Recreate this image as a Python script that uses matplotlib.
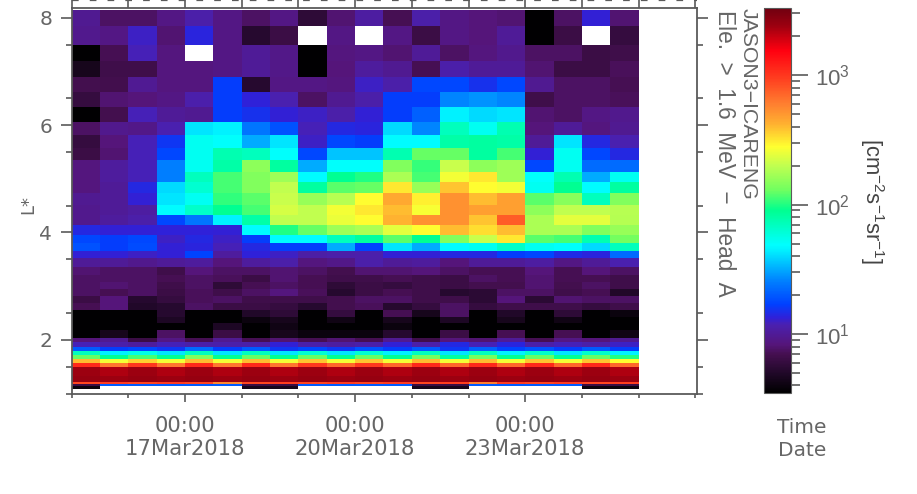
import numpy as np
import matplotlib
matplotlib.use("Agg")
import matplotlib.pyplot as plt
from matplotlib.colors import LinearSegmentedColormap, LogNorm
from matplotlib.ticker import LogLocator, NullFormatter

W, H = 917, 494
N = np.nan

# L* bin edges (top to bottom)
l_edges = [8.155, 7.847, 7.493, 7.194, 6.896, 6.616, 6.336, 6.056, 5.813, 5.571,
           5.347, 5.123, 4.937, 4.731, 4.507, 4.321, 4.134, 3.948, 3.799, 3.649,
           3.519, 3.351, 3.201, 3.071, 2.940, 2.810, 2.679, 2.549, 2.418, 2.306,
           2.175, 2.026, 1.951, 1.858, 1.784, 1.709, 1.634, 1.560, 1.485, 1.317,
           1.215, 1.168, 1.140, 1.093]

# log10 flux per L* bin (rows) and 12 h time bin (columns)
log_flux = [
 [.98,.88,.88,.95,1.05,.95,.88,.95,.75,.9,1.03,.85,1.05,.95,.92,.9,.55,.88,1.12,.9],
 [.97,.95,1.1,.9,1.14,.95,.72,.8,N,.95,N,.95,.8,.95,.92,1.0,.55,.8,N,.78],
 [.55,.85,1.08,.93,N,.95,1.0,.96,.55,.93,.95,.9,1.0,.88,.93,.97,.88,.88,.8,.82],
 [.65,.82,.82,.93,.93,.95,1.0,.96,.55,.92,1.02,.98,.85,1.05,1.0,1.0,.9,.8,.8,.86],
 [.84,.83,.99,.93,.93,1.22,.72,.95,.95,.93,1.1,1.05,1.25,1.25,1.18,1.25,.98,.88,.88,.85],
 [.78,.9,.92,.95,1.06,1.22,1.13,1.07,.88,.98,1.05,1.22,1.22,1.42,1.45,1.42,.82,.88,.88,.86],
 [.55,.84,1.08,1.0,.98,1.22,1.18,1.12,1.1,1.05,1.12,1.22,1.32,1.65,1.6,1.62,.9,.88,.95,.97],
 [.88,.97,.96,1.07,1.62,1.65,1.38,1.28,1.08,1.15,1.14,1.6,1.42,1.85,1.72,1.88,.92,1.0,.93,.98],
 [.78,.92,1.08,1.2,1.72,1.7,1.5,1.62,1.1,1.25,1.22,1.68,1.68,1.9,1.92,1.9,1.0,1.62,1.15,1.07],
 [.8,.9,1.08,1.25,1.72,1.88,1.85,1.7,1.25,1.55,1.55,1.88,2.1,2.1,1.92,2.05,1.12,1.72,1.25,1.15],
 [.93,1.02,1.08,1.4,1.72,1.9,2.18,1.92,1.5,1.7,1.7,2.15,2.03,2.32,2.18,2.22,1.25,1.72,1.35,1.35],
 [.93,1.02,1.08,1.4,1.85,2.05,2.15,2.22,1.68,1.95,2.0,2.25,2.05,2.42,2.5,2.22,1.7,1.88,1.5,1.72],
 [.93,1.0,1.15,1.6,1.8,2.05,2.15,2.3,1.92,2.08,2.1,2.5,2.2,2.58,2.45,2.42,1.72,1.95,1.68,1.92],
 [.98,1.0,1.12,1.62,1.72,2.02,2.08,2.32,2.2,2.28,2.45,2.65,2.48,2.72,2.6,2.68,2.08,2.17,1.85,2.15],
 [.97,1.0,1.03,1.68,1.82,1.95,2.05,2.35,2.3,2.42,2.5,2.6,2.43,2.72,2.68,2.68,2.18,2.3,2.3,2.28],
 [.97,1.02,1.05,1.25,1.38,1.65,1.9,2.3,2.3,2.4,2.45,2.62,2.72,2.72,2.58,2.88,2.25,2.38,2.38,2.27],
 [1.15,1.12,1.12,1.13,1.13,1.12,1.68,2.0,2.1,2.22,2.25,2.38,2.45,2.6,2.52,2.6,2.25,2.25,2.15,2.2],
 [1.25,1.22,1.25,1.1,1.15,1.1,1.22,1.68,1.68,1.85,1.92,2.08,1.95,2.15,2.32,2.5,2.08,2.05,1.88,2.12],
 [1.28,1.22,1.26,1.12,1.14,1.08,1.15,1.22,1.22,1.5,1.24,1.62,1.5,1.68,1.72,1.82,1.72,1.7,1.6,1.85],
 [1.12,1.12,1.1,1.12,1.24,1.02,1.13,1.1,1.04,1.05,1.06,1.12,1.12,1.15,1.15,1.22,1.25,1.16,1.14,1.35],
 [1.0,1.0,.97,1.0,1.02,.92,1.02,1.05,.93,.96,1.05,1.0,1.02,.92,1.0,1.0,1.03,.95,1.0,1.07],
 [.9,.88,.88,.82,.92,.88,.88,.9,.88,.84,.9,.9,.92,.88,.85,.85,.92,.85,.92,.88],
 [.88,.88,.88,.85,.88,.86,.8,.9,.85,.82,.82,.85,.82,.8,.88,.85,.9,.85,.85,.82],
 [.88,.9,.88,.82,.88,.75,.85,.88,.85,.75,.8,.78,.82,.8,.84,.84,.9,.84,.88,.82],
 [.88,.85,.88,.8,.86,.82,.88,.93,.86,.72,.8,.85,.82,.72,.74,.88,.88,.82,.85,.7],
 [.8,.92,.72,.78,.86,.88,.82,.82,.82,.84,.88,.88,.82,.82,.74,.92,.74,.9,.88,.88],
 [.85,.92,.7,.72,.88,.8,.8,.78,.72,.84,.86,.72,.78,.88,.78,.82,.82,.82,.78,.82],
 [.55,.55,.55,.72,.55,.55,.7,.75,.55,.78,.55,.85,.65,.88,.55,.7,.55,.75,.55,.6],
 [.55,.55,.55,.68,.55,.55,.6,.65,.55,.62,.55,.65,.55,.68,.55,.65,.55,.62,.55,.55],
 [.55,.55,.55,.55,.55,.68,.55,.62,.55,.55,.55,.6,.55,.55,.55,.55,.55,.55,.55,.55],
 [.55,.65,.55,.88,.55,.8,.55,.65,.6,.6,.6,.72,.55,.8,.55,.85,.55,.85,.55,.62],
 [.92,.98,.8,.95,.85,.98,.85,.9,.85,.9,.85,.98,.82,.92,.9,1.0,.85,.95,.92,.98],
 [1.08,1.05,1.02,1.08,1.05,1.05,1.05,1.12,1.05,1.03,1.05,1.12,1.05,1.15,1.08,1.14,1.05,1.08,1.05,1.1],
 [1.3,1.22,1.25,1.2,1.35,1.22,1.3,1.2,1.25,1.2,1.28,1.22,1.3,1.2,1.32,1.24,1.28,1.22,1.3,1.22],
 [1.85,1.65,1.75,1.62,1.85,1.62,1.85,1.62,1.8,1.62,1.8,1.65,1.85,1.62,1.85,1.65,1.82,1.62,1.82,1.65],
 [2.1,1.95,2.05,1.95,2.15,1.95,2.1,1.95,2.1,1.95,2.1,1.95,2.12,1.92,2.12,1.95,2.1,1.95,2.1,2.0],
 [2.6,2.42,2.55,2.42,2.6,2.42,2.6,2.42,2.58,2.42,2.58,2.42,2.6,2.42,2.6,2.42,2.58,2.42,2.58,2.45],
 [3.05,2.8,3.0,2.8,3.05,2.8,3.05,2.8,3.0,2.85,3.0,2.85,3.05,2.85,3.05,2.85,3.05,2.85,3.05,2.85],
 [3.38,3.35,3.38,3.35,3.38,3.35,3.38,3.35,3.38,3.35,3.38,3.35,3.38,3.35,3.38,3.35,3.38,3.35,3.38,3.35],
 [3.4,3.38,3.4,3.38,3.4,3.38,3.4,3.38,3.4,3.38,3.4,3.38,3.4,3.38,3.4,3.38,3.4,3.38,3.4,3.38],
 [2.95,2.98,2.95,2.98,2.95,2.75,2.95,2.98,2.95,2.98,2.95,2.98,2.95,2.98,2.78,2.98,2.95,2.98,2.95,2.98],
 [.8,1.3,1.3,1.3,1.3,1.3,.8,.8,1.3,1.3,1.3,1.3,.8,.8,1.3,1.3,1.3,1.3,.8,.8],
 [.6,N,N,N,N,N,.65,.65,N,N,N,N,.65,.65,N,N,N,N,.6,.6],
]

# time bin edges, days after 15 Mar 2018 00:00
n_time_bins = 20
t_edges = np.arange(n_time_bins + 1) * 0.5

major_days = [2, 5, 8]
major_labels = ["00:00\n17Mar2018", "00:00\n20Mar2018", "00:00\n23Mar2018"]
minor_days = [0, 1, 3, 4, 6, 7, 9, 10, 11]
all_days = list(range(12))
l_major = [2, 4, 6, 8]
l_minor = [1.5, 2.5, 3.5, 4.5, 5.5, 6.5, 7.5, 1.0]

vmin, vmax = 3.5, 3300.0

stops = [(0.0, "#000000"), (.05, "#200828"), (.10, "#450f50"), (.125, "#55157a"),
         (.177, "#4a20b0"), (.195, "#3020d8"), (.23, "#0040ff"), (.29, "#0080ff"),
         (.37, "#00f0ff"), (.385, "#00ffff"), (.475, "#00ff90"), (.527, "#70ff60"),
         (.59, "#c0ff50"), (.64, "#ffff30"), (.70, "#ffb030"), (.75, "#ff8030"),
         (.815, "#ff4020"), (.89, "#ff0010"), (.955, "#9c0010"), (1.0, "#700010")]
cmap = LinearSegmentedColormap.from_list("flux", stops, N=512)
cmap.set_bad("white")

GREY = "#5a5a5a"
TXT = "#666666"
plt.rcParams["mathtext.default"] = "regular"
plt.rcParams["mathtext.fontset"] = "custom"
plt.rcParams["mathtext.rm"] = "Liberation Sans"

fig = plt.figure(figsize=(W / 100, H / 100), dpi=100, facecolor="white")

def rect(x0, y0, x1, y1):
    return [x0 / W, (H - y1) / H, (x1 - x0) / W, (y1 - y0) / H]

ax = fig.add_axes(rect(71.7, 8, 697, 393.5))
values = np.ma.masked_invalid(10.0 ** np.array(log_flux))
mesh = ax.pcolormesh(t_edges, l_edges, values, cmap=cmap,
                     norm=LogNorm(vmin=vmin, vmax=vmax), shading="flat", rasterized=True)
ax.set_xlim(0, 11.03)
ax.set_ylim(1.0, 8.183)
for s in ax.spines.values():
    s.set_color(GREY)
    s.set_linewidth(1.3)

ax.set_xticks(major_days)
ax.set_xticklabels(major_labels, fontsize=15.2, color=TXT, family="DejaVu Sans", linespacing=1.15)
ax.set_xticks(minor_days, minor=True)
ax.set_yticks(l_major)
ax.set_yticklabels([str(v) for v in l_major], fontsize=14.5, color=TXT, family="DejaVu Sans")
ax.set_yticks(l_minor, minor=True)
ax.tick_params(axis="x", which="major", direction="out", length=5.5, width=1.2, color=GREY, pad=11)
ax.tick_params(axis="x", which="minor", direction="out", length=3, width=1.2, color=GREY)
ax.tick_params(axis="y", which="major", direction="out", length=8, width=1.2, color=GREY,
               right=True, pad=6)
ax.tick_params(axis="y", which="minor", direction="out", length=4.5, width=1.2, color=GREY,
               right=True)

fig.text(28 / W, 1 - 205 / H, "L*", rotation=90, ha="center", va="center",
         fontsize=13, color=TXT, family="DejaVu Sans")

# strip above the panel: day ticks reaching up to the neighbouring axis
strip = fig.add_axes(rect(71.7, 0, 697, 8), facecolor="none")
strip.set_xlim(0, 11.03)
strip.set_ylim(0, 1)
for s in strip.spines.values():
    s.set_visible(False)
strip.set_yticks([])
strip.set_xticks(all_days)
strip.set_xticklabels([])
strip.tick_params(axis="x", direction="in", length=5.8, width=1.2, color=GREY)
strip.axhline(0.95, color=GREY, lw=1.6, linestyle=(0, (3, 5)))

fig.text(748.5 / W, 1 - 8 / H, "JASON3\u2212ICARENG", rotation=-90, ha="center", va="top",
         fontsize=15.3, color=TXT, family="Liberation Sans")
fig.text(725 / W, 1 - 10 / H, "Ele.  >  1.6  MeV  \u2212  Head  A", rotation=-90, ha="center", va="top",
         fontsize=16.3, color=TXT, family="Liberation Sans")

cax = fig.add_axes(rect(764, 8, 791, 393))
cb = fig.colorbar(mesh, cax=cax)
cb.outline.set_edgecolor(GREY)
cb.outline.set_linewidth(0.8)
cax.yaxis.set_major_locator(LogLocator(base=10, numticks=5))
cax.yaxis.set_minor_locator(LogLocator(base=10, subs=range(2, 10), numticks=10))
cax.yaxis.set_minor_formatter(NullFormatter())
cax.tick_params(axis="y", which="major", length=12, width=1.2, color=GREY, pad=5,
                labelsize=16, labelcolor=TXT)
cax.tick_params(axis="y", which="minor", length=6.5, width=1.2, color=GREY)
for t in cax.get_yticklabels():
    t.set_family("Liberation Sans")

fig.text(872 / W, 1 - 201 / H, "[cm$^{-2}$s$^{-1}$sr$^{-1}$]", rotation=-90,
         ha="center", va="center", fontsize=15.8, color="#444444", family="Liberation Sans")

fig.text(802 / W, 1 - 427 / H, "Time", ha="center", va="center", fontsize=14.5,
         color=TXT, family="DejaVu Sans")
fig.text(802 / W, 1 - 450 / H, "Date", ha="center", va="center", fontsize=14.5,
         color=TXT, family="DejaVu Sans")

fig.savefig("out.png", dpi=100, facecolor="white")
